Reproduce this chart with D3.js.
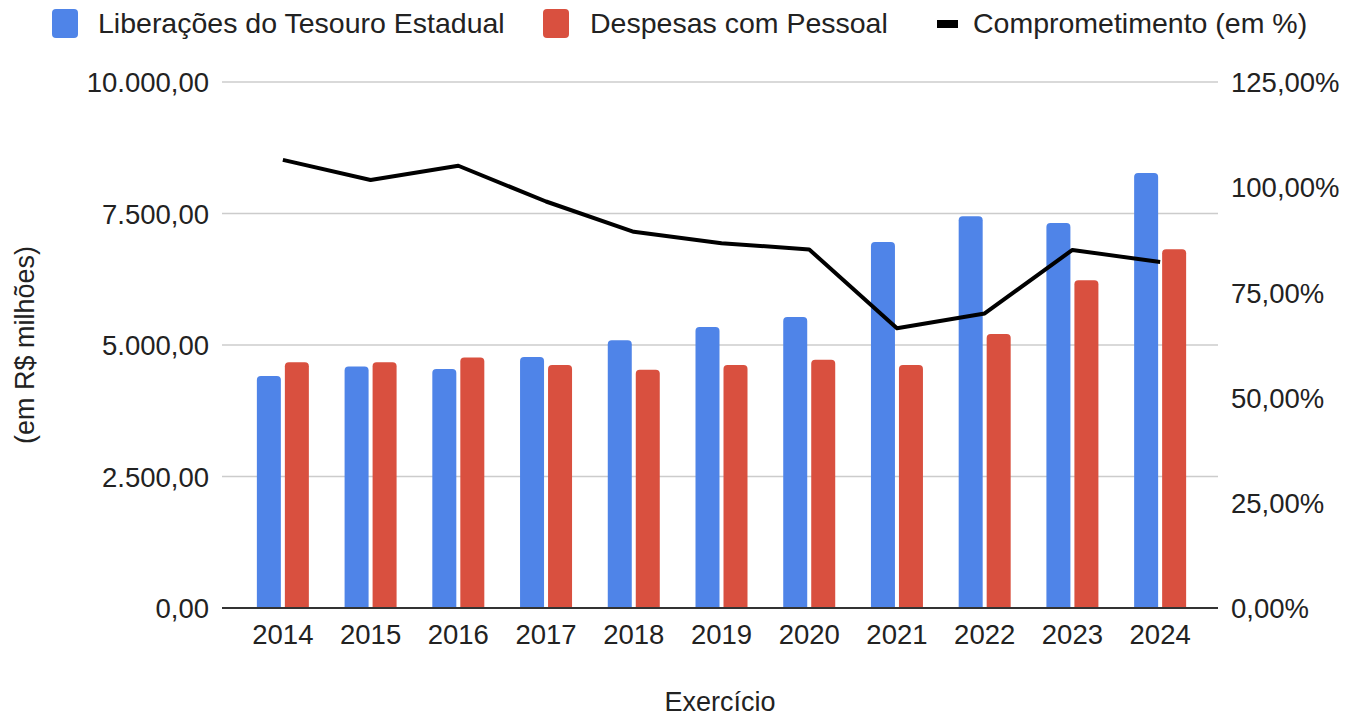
<!DOCTYPE html>
<html>
<head>
<meta charset="utf-8">
<script src="https://cdn.jsdelivr.net/npm/d3@7"></script>
<style>
  body { margin: 0; background: #fff; }
  svg text { font-family: "Liberation Sans", Arial, sans-serif; fill: #222; }
</style>
</head>
<body>
<svg id="chart" width="1348" height="719"></svg>
<script>
// anos e valores (R$ milhoes e %)
let years = ["2014", "2015", "2016", "2017", "2018", "2019", "2020", "2021", "2022", "2023", "2024"];
let liberacoes = [4410, 4590, 4545, 4770, 5090, 5340, 5530, 6960, 7450, 7320, 8270];
let despesas = [4670, 4670, 4760, 4620, 4530, 4620, 4720, 4620, 5210, 6230, 6820];
let comprometimento = [106.5, 101.7, 105.1, 96.6, 89.4, 86.7, 85.2, 66.5, 70.0, 85.1, 82.2];
let leftTicks = [0, 2500, 5000, 7500, 10000];
let rightTicks = [0, 25, 50, 75, 100, 125];
let seriesNames = ["Liberações do Tesouro Estadual", "Despesas com Pessoal", "Comprometimento (em %)"];

let svg = d3.select("#chart");

// ptBR number format
let ptBR = d3.formatLocale({ decimal: ",", thousands: ".", grouping: [3], currency: ["R$", ""] });
let fmtLeft = ptBR.format(",.2f");
let fmtRight = function (d) { return ptBR.format(",.2f")(d) + "%"; };

let plotLeft = 222;
let plotRight = 1218;
let plotTop = 82;
let plotBottom = 608;

let blue = "#4f84e8";
let red = "#d9503f";
let tickFont = 27.5;

let xScale = d3.scaleBand(years, [239, 1204]);
let yLeft = d3.scaleLinear([0, 10000], [plotBottom, plotTop]);
let yRight = d3.scaleLinear([0, 125], [plotBottom, plotTop]);

// gridlines
svg.append("g")
    .selectAll("line")
    .data(leftTicks.slice(1))
    .join("line")
    .attr("x1", plotLeft)
    .attr("x2", plotRight)
    .attr("y1", d => yLeft(d))
    .attr("y2", d => yLeft(d))
    .attr("stroke", "#cccccc")
    .attr("stroke-width", 1.5);

// left axis
let gLeft = svg.append("g")
    .attr("transform", "translate(" + (plotLeft - 13) + ",0)")
    .call(d3.axisLeft(yLeft).tickValues(leftTicks).tickFormat(fmtLeft).tickSize(0).tickPadding(0));
gLeft.select(".domain").remove();
gLeft.selectAll("text").attr("font-size", tickFont).attr("dy", "0.35em").attr("font-family", null);

// right axis
let gRight = svg.append("g")
    .attr("transform", "translate(" + (plotRight + 13) + ",0)")
    .call(d3.axisRight(yRight).tickValues(rightTicks).tickFormat(fmtRight).tickSize(0).tickPadding(0));
gRight.select(".domain").remove();
gRight.selectAll("text").attr("font-size", tickFont).attr("dy", "0.35em").attr("font-family", null);

// bars
let barW = 24;
let gap = 4;
function topRoundedBar(x, y, w, h, r) {
    r = Math.min(r, h);
    return "M" + x + "," + (y + h) +
        "V" + (y + r) +
        "Q" + x + "," + y + " " + (x + r) + "," + y +
        "H" + (x + w - r) +
        "Q" + (x + w) + "," + y + " " + (x + w) + "," + (y + r) +
        "V" + (y + h) + "Z";
}

let barData = years.map((yr, i) => ({ year: yr, lib: liberacoes[i], desp: despesas[i] }));

svg.append("g")
    .selectAll("path.lib")
    .data(barData)
    .join("path")
    .attr("class", "lib")
    .attr("fill", blue)
    .attr("d", d => {
        let cx = xScale(d.year) + xScale.bandwidth() / 2;
        return topRoundedBar(cx - gap / 2 - barW, yLeft(d.lib), barW, plotBottom - yLeft(d.lib), 4);
    });

svg.append("g")
    .selectAll("path.desp")
    .data(barData)
    .join("path")
    .attr("class", "desp")
    .attr("fill", red)
    .attr("d", d => {
        let cx = xScale(d.year) + xScale.bandwidth() / 2;
        return topRoundedBar(cx + gap / 2, yLeft(d.desp), barW, plotBottom - yLeft(d.desp), 4);
    });

// baseline
svg.append("line")
    .attr("x1", plotLeft)
    .attr("x2", plotRight)
    .attr("y1", plotBottom)
    .attr("y2", plotBottom)
    .attr("stroke", "#333")
    .attr("stroke-width", 2);

// line series
let line = d3.line()
    .x((d, i) => xScale(years[i]) + xScale.bandwidth() / 2)
    .y(d => yRight(d));

svg.append("path")
    .datum(comprometimento)
    .attr("fill", "none")
    .attr("stroke", "#000")
    .attr("stroke-width", 4)
    .attr("stroke-linejoin", "round")
    .attr("d", line);

// x axis labels
let gX = svg.append("g")
    .attr("transform", "translate(0," + (plotBottom + 15) + ")")
    .call(d3.axisBottom(xScale).tickSize(0).tickPadding(0));
gX.select(".domain").remove();
gX.selectAll("text").attr("font-size", tickFont).attr("dy", "0.75em").attr("font-family", null);

// axis titles
svg.append("text")
    .attr("x", 720)
    .attr("y", 711)
    .attr("text-anchor", "middle")
    .attr("font-size", 27)
    .text("Exercício");

svg.append("text")
    .attr("transform", "translate(34,345) rotate(-90)")
    .attr("text-anchor", "middle")
    .attr("font-size", 27)
    .text("(em R$ milhões)");

// legend
let legend = svg.append("g");
legend.append("rect").attr("x", 52).attr("y", 9).attr("width", 26).attr("height", 29).attr("rx", 4).attr("fill", blue);
legend.append("text").attr("x", 98).attr("y", 33).attr("font-size", 28.5).text(seriesNames[0]);
legend.append("rect").attr("x", 543).attr("y", 9).attr("width", 26).attr("height", 29).attr("rx", 4).attr("fill", red);
legend.append("text").attr("x", 590).attr("y", 33).attr("font-size", 28.5).text(seriesNames[1]);
legend.append("rect").attr("x", 937).attr("y", 20).attr("width", 21).attr("height", 8).attr("fill", "#000");
legend.append("text").attr("x", 973).attr("y", 33).attr("font-size", 28.5).text(seriesNames[2]);
</script>
</body>
</html>
